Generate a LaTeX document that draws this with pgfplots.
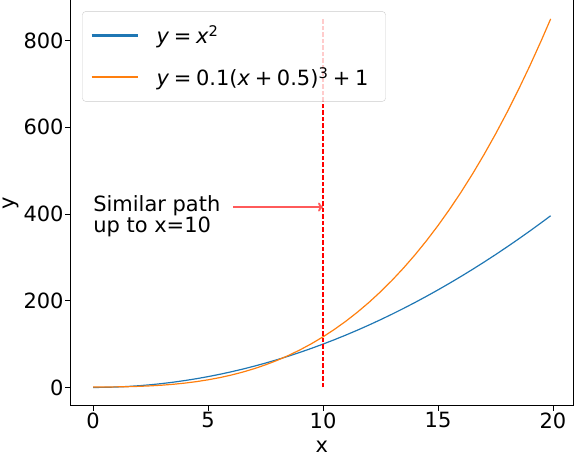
\documentclass[border=0pt]{standalone}
\usepackage{fontspec}
\setmainfont{DejaVu Sans}
\usepackage{pgfplots}
\pgfplotsset{compat=1.18}
\usetikzlibrary{arrows.meta}
\definecolor{mplblue}{HTML}{1F77B4}
\definecolor{mplorange}{HTML}{FF7F0E}
\definecolor{arrowred}{HTML}{FF5A5A}
\newcommand{\bigfont}{\fontsize{21}{21}\selectfont}
\newcommand{\op}[1]{\hspace{0.22em}#1\hspace{0.22em}}
\begin{document}
\begin{tikzpicture}
\begin{axis}[
    scale only axis,
    width=504pt, height=406pt,
    xmin=-0.995, xmax=20.895,
    ymin=-42.5, ymax=892.5,
    axis x line*=bottom, axis y line*=box,
    axis line style={-, line width=0.9pt},
    xtick={0,5,10,15,20}, ytick={0,200,400,600,800},
    xtick pos=bottom, ytick pos=left,
    tick align=outside, major tick length=5pt,
    tick style={line width=0.9pt, black},
    ticklabel style={font=\bigfont, inner sep=1.5pt},
    /pgf/number format/assume math mode=true,
    xlabel={x}, ylabel={y},
    label style={font=\bigfont},
    xlabel style={inner sep=4.5pt, yshift=-6.5pt},
    ylabel style={inner sep=3pt},
    legend cell align=left,
    legend style={at={(axis description cs:0.024,0.973)}, anchor=north west,
        draw=black!20, rounded corners=3pt, fill=white, fill opacity=0.8,
        draw opacity=1, text opacity=1, font=\bigfont,
        inner xsep=8pt, inner ysep=12pt, row sep=18pt, column sep=9pt,
        nodes={inner xsep=9pt, inner ysep=2pt}},
]
\addplot[mplblue, line width=1.2pt,
  legend image code/.code={\draw[mplblue, line width=2.2pt, opacity=1] (0pt,0pt) -- (46pt,0pt);}]
  coordinates {
 (0,0) (0.5,0.25) (1,1) (1.5,2.25) (2,4) (2.5,6.25) (3,9) (3.5,12.25)
 (4,16) (4.5,20.25) (5,25) (5.5,30.25) (6,36) (6.5,42.25) (7,49) (7.5,56.25)
 (8,64) (8.5,72.25) (9,81) (9.5,90.25) (10,100) (10.5,110.25) (11,121)
 (11.5,132.25) (12,144) (12.5,156.25) (13,169) (13.5,182.25) (14,196)
 (14.5,210.25) (15,225) (15.5,240.25) (16,256) (16.5,272.25) (17,289)
 (17.5,306.25) (18,324) (18.5,342.25) (19,361) (19.5,380.25) (19.9,396.01)
};
\addlegendentry{\textit{y}\op{=}\textit{x}\textsuperscript{2}}
\addplot[mplorange, line width=1.2pt,
  legend image code/.code={\draw[mplorange, line width=2.2pt, opacity=1] (0pt,0pt) -- (46pt,0pt);}]
  coordinates {
 (0,1.0125) (0.5,1.1) (1,1.3375) (1.5,1.8) (2,2.5625) (2.5,3.7) (3,5.2875)
 (3.5,7.4) (4,10.1125) (4.5,13.5) (5,17.6375) (5.5,22.6) (6,28.4625)
 (6.5,35.3) (7,43.1875) (7.5,52.2) (8,62.4125) (8.5,73.9) (9,86.7375)
 (9.5,101) (10,116.7625) (10.5,134.1) (11,153.0875) (11.5,173.8)
 (12,196.3125) (12.5,220.7) (13,247.0375) (13.5,275.4) (14,305.8625)
 (14.5,338.5) (15,373.3875) (15.5,410.6) (16,450.2125) (16.5,492.3)
 (17,536.9375) (17.5,584.2) (18,634.1625) (18.5,686.9) (19,742.4875)
 (19.5,801) (19.9,849.9664)
};
\addlegendentry{\textit{y}\op{=}0.1(\textit{x}\op{+}0.5)\textsuperscript{3}\op{+}1}
% vertical marker at x = 10
\addplot[red, line width=1.3pt, dash pattern=on 4.5pt off 2pt, forget plot]
  coordinates {(10,0) (10,850)};
\node[anchor=north west, align=left, inner sep=0pt, font=\bigfont]
  at (axis cs:0,443) {Similar path\\up to x=10};
\draw[-{To[length=5pt,width=9pt]}, arrowred, line width=1.9pt]
  (axis cs:6.1,416) -- (axis cs:10,416);
\end{axis}
\end{tikzpicture}
\end{document}
